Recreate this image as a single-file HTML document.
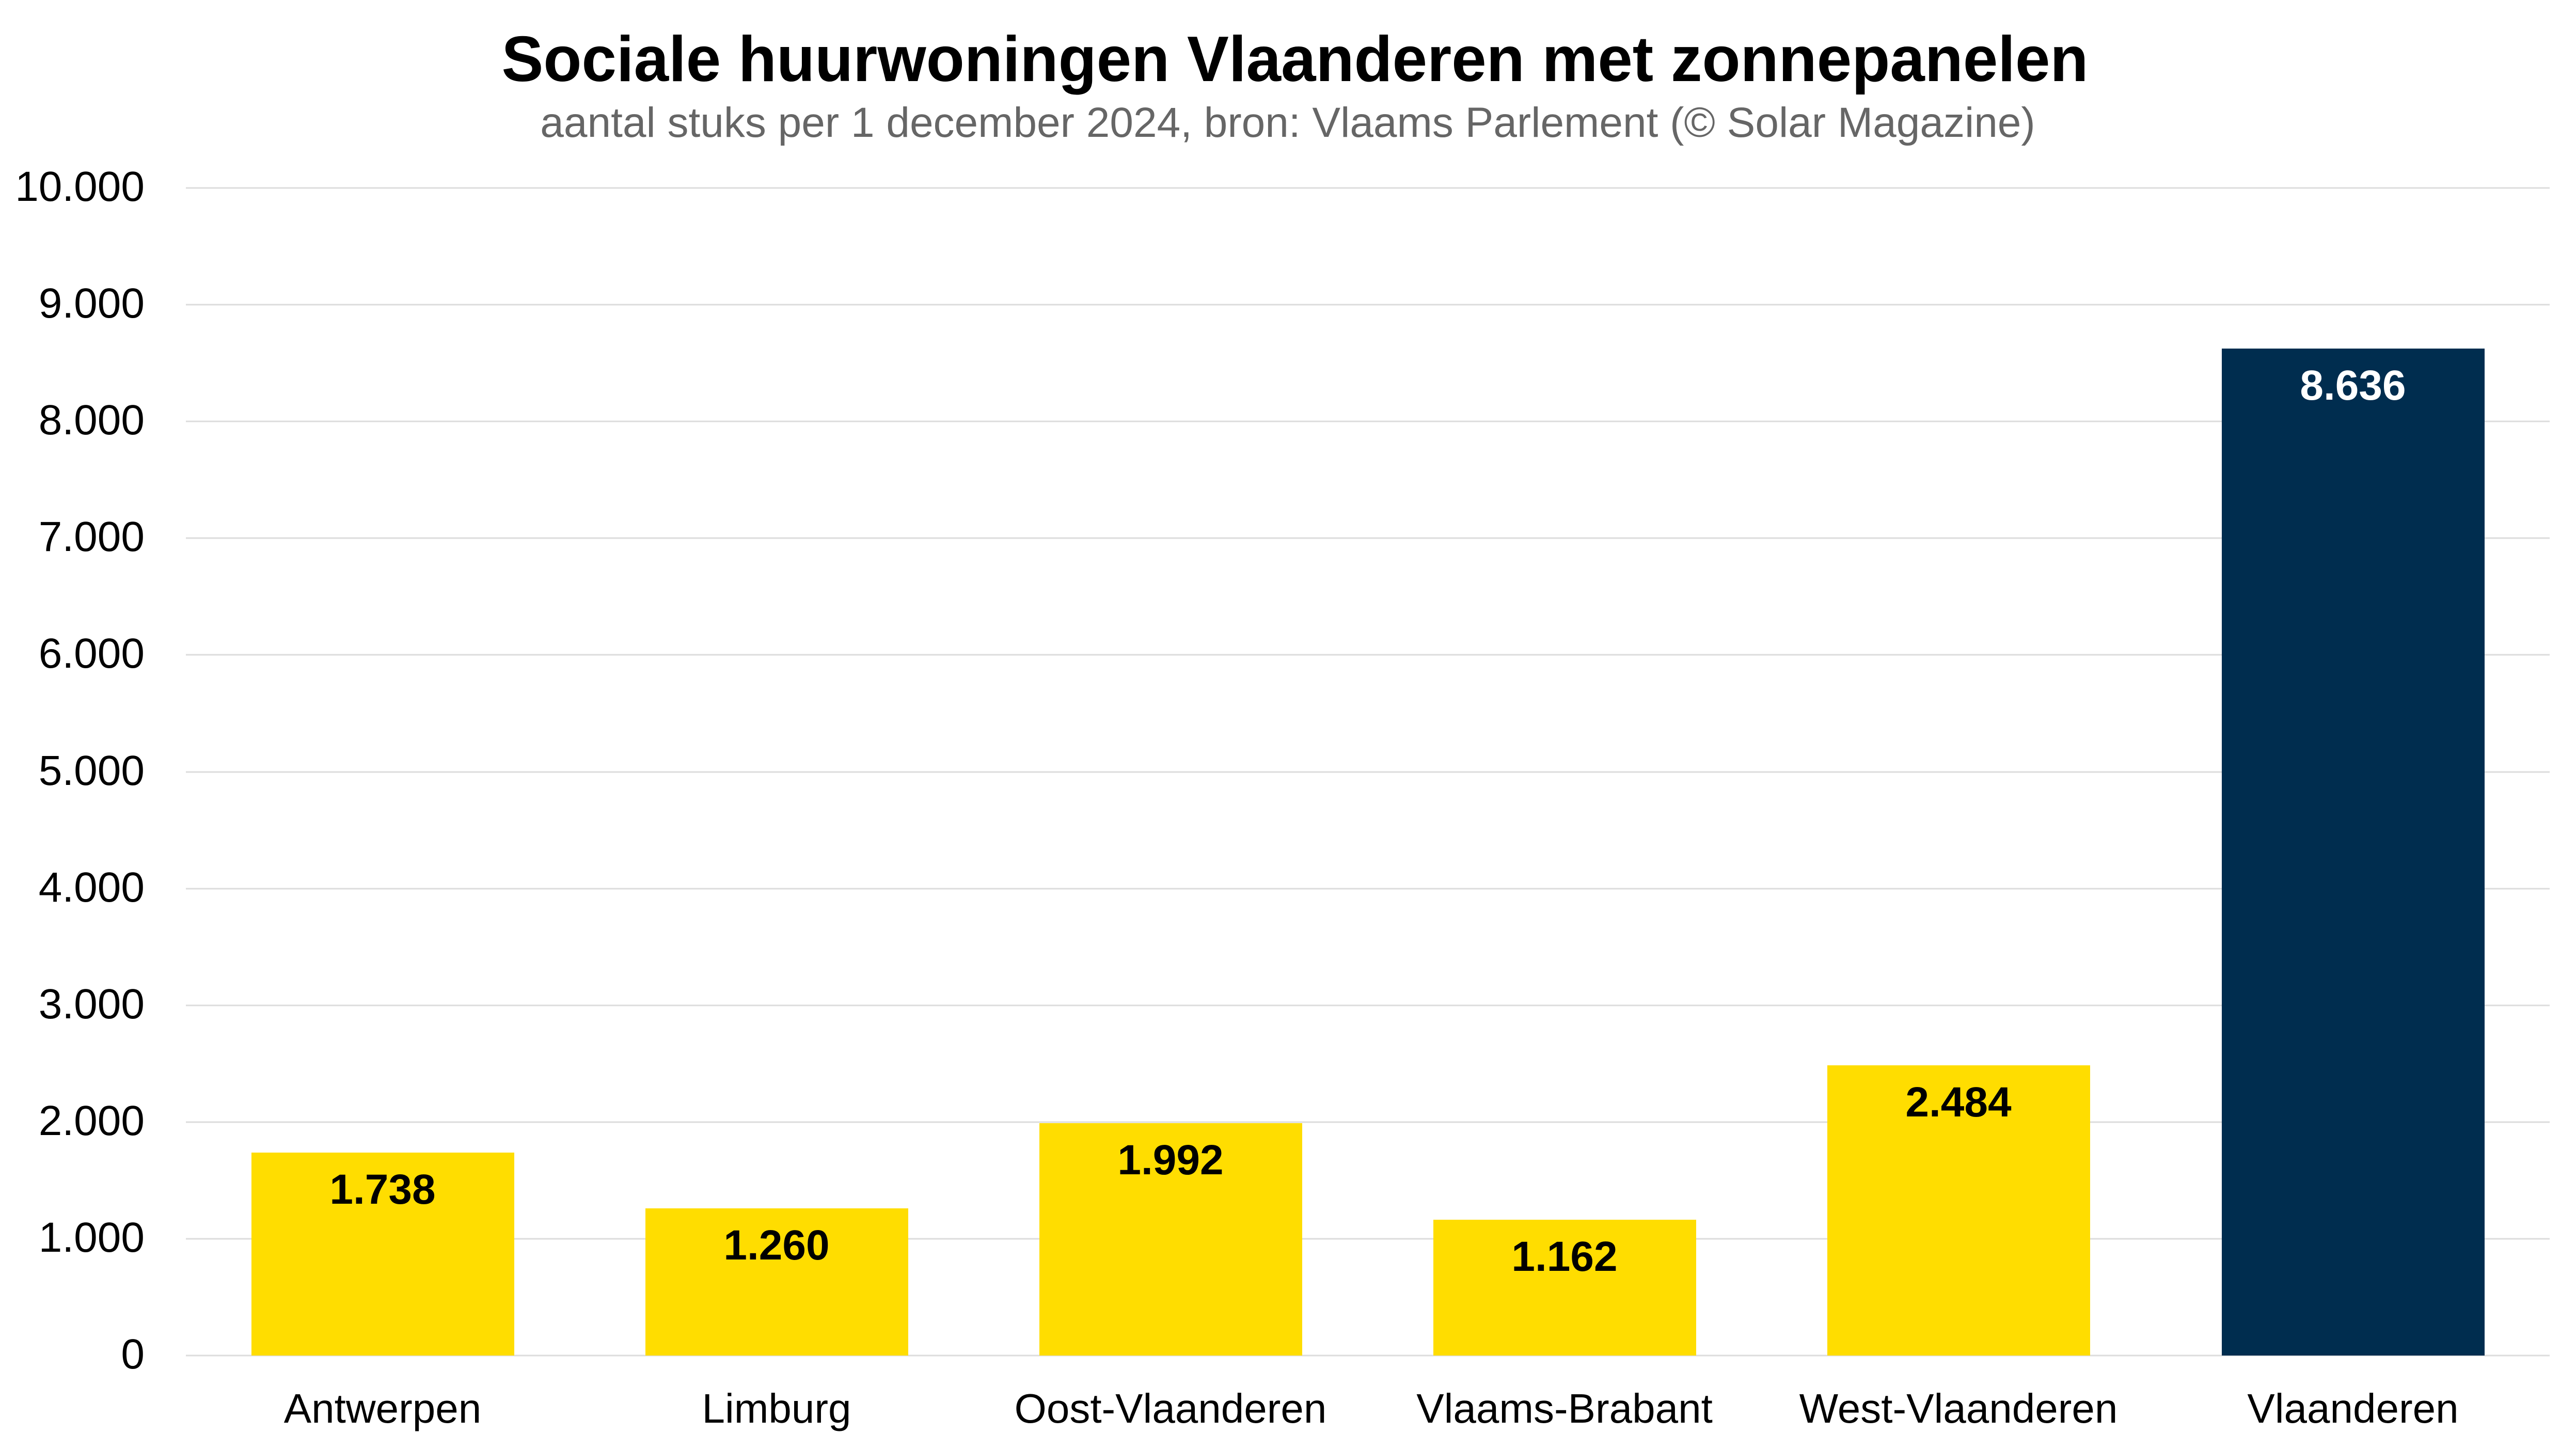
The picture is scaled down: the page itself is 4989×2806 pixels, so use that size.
<!DOCTYPE html>
<html><head><meta charset="utf-8"><style>
html,body{margin:0;padding:0;background:#fff;}
svg{display:block;}
</style></head><body>
<svg width="4989" height="2806" viewBox="0 0 4989 2806" xmlns="http://www.w3.org/2000/svg" font-family="'Liberation Sans', sans-serif">
<rect width="4989" height="2806" fill="#fff"/>
<text x="2508" y="157" text-anchor="middle" font-size="124" font-weight="bold" fill="#000" textLength="3073" lengthAdjust="spacingAndGlyphs">Sociale huurwoningen Vlaanderen met zonnepanelen</text>
<text x="2494" y="265" text-anchor="middle" font-size="82" fill="#666">aantal stuks per 1 december 2024, bron: Vlaams Parlement (© Solar Magazine)</text>
<g stroke="#dcdcdc" stroke-width="3">
<line x1="360" x2="4938" y1="2625" y2="2625"/>
<line x1="360" x2="4938" y1="2399" y2="2399"/>
<line x1="360" x2="4938" y1="2173" y2="2173"/>
<line x1="360" x2="4938" y1="1947" y2="1947"/>
<line x1="360" x2="4938" y1="1721" y2="1721"/>
<line x1="360" x2="4938" y1="1495" y2="1495"/>
<line x1="360" x2="4938" y1="1268" y2="1268"/>
<line x1="360" x2="4938" y1="1042" y2="1042"/>
<line x1="360" x2="4938" y1="816" y2="816"/>
<line x1="360" x2="4938" y1="590" y2="590"/>
<line x1="360" x2="4938" y1="364" y2="364"/>
</g>
<g font-size="82" fill="#000" text-anchor="end">
<text x="280" y="2650">0</text>
<text x="280" y="2424">1.000</text>
<text x="280" y="2198">2.000</text>
<text x="280" y="1972">3.000</text>
<text x="280" y="1746">4.000</text>
<text x="280" y="1520">5.000</text>
<text x="280" y="1293">6.000</text>
<text x="280" y="1067">7.000</text>
<text x="280" y="841">8.000</text>
<text x="280" y="615">9.000</text>
<text x="280" y="389">10.000</text>
</g>
<g>
<rect x="487" y="2232" width="509" height="393" fill="#FFDD00"/>
<rect x="1250" y="2340" width="509" height="285" fill="#FFDD00"/>
<rect x="2013" y="2175" width="509" height="450" fill="#FFDD00"/>
<rect x="2776" y="2362" width="509" height="263" fill="#FFDD00"/>
<rect x="3539" y="2063" width="509" height="562" fill="#FFDD00"/>
<rect x="4303" y="675" width="509" height="1950" fill="#002D4F"/>
</g>
<g font-size="82" font-weight="bold" text-anchor="middle" fill="#000">
<text x="741" y="2331">1.738</text>
<text x="1504" y="2439">1.260</text>
<text x="2267" y="2274">1.992</text>
<text x="3030" y="2461">1.162</text>
<text x="3793" y="2162">2.484</text>
<text x="4557" y="774" fill="#fff">8.636</text>
</g>
<g font-size="80" text-anchor="middle" fill="#000">
<text x="741" y="2755">Antwerpen</text>
<text x="1504" y="2755">Limburg</text>
<text x="2267" y="2755">Oost-Vlaanderen</text>
<text x="3030" y="2755">Vlaams-Brabant</text>
<text x="3793" y="2755">West-Vlaanderen</text>
<text x="4557" y="2755">Vlaanderen</text>
</g>
</svg>
</body></html>
